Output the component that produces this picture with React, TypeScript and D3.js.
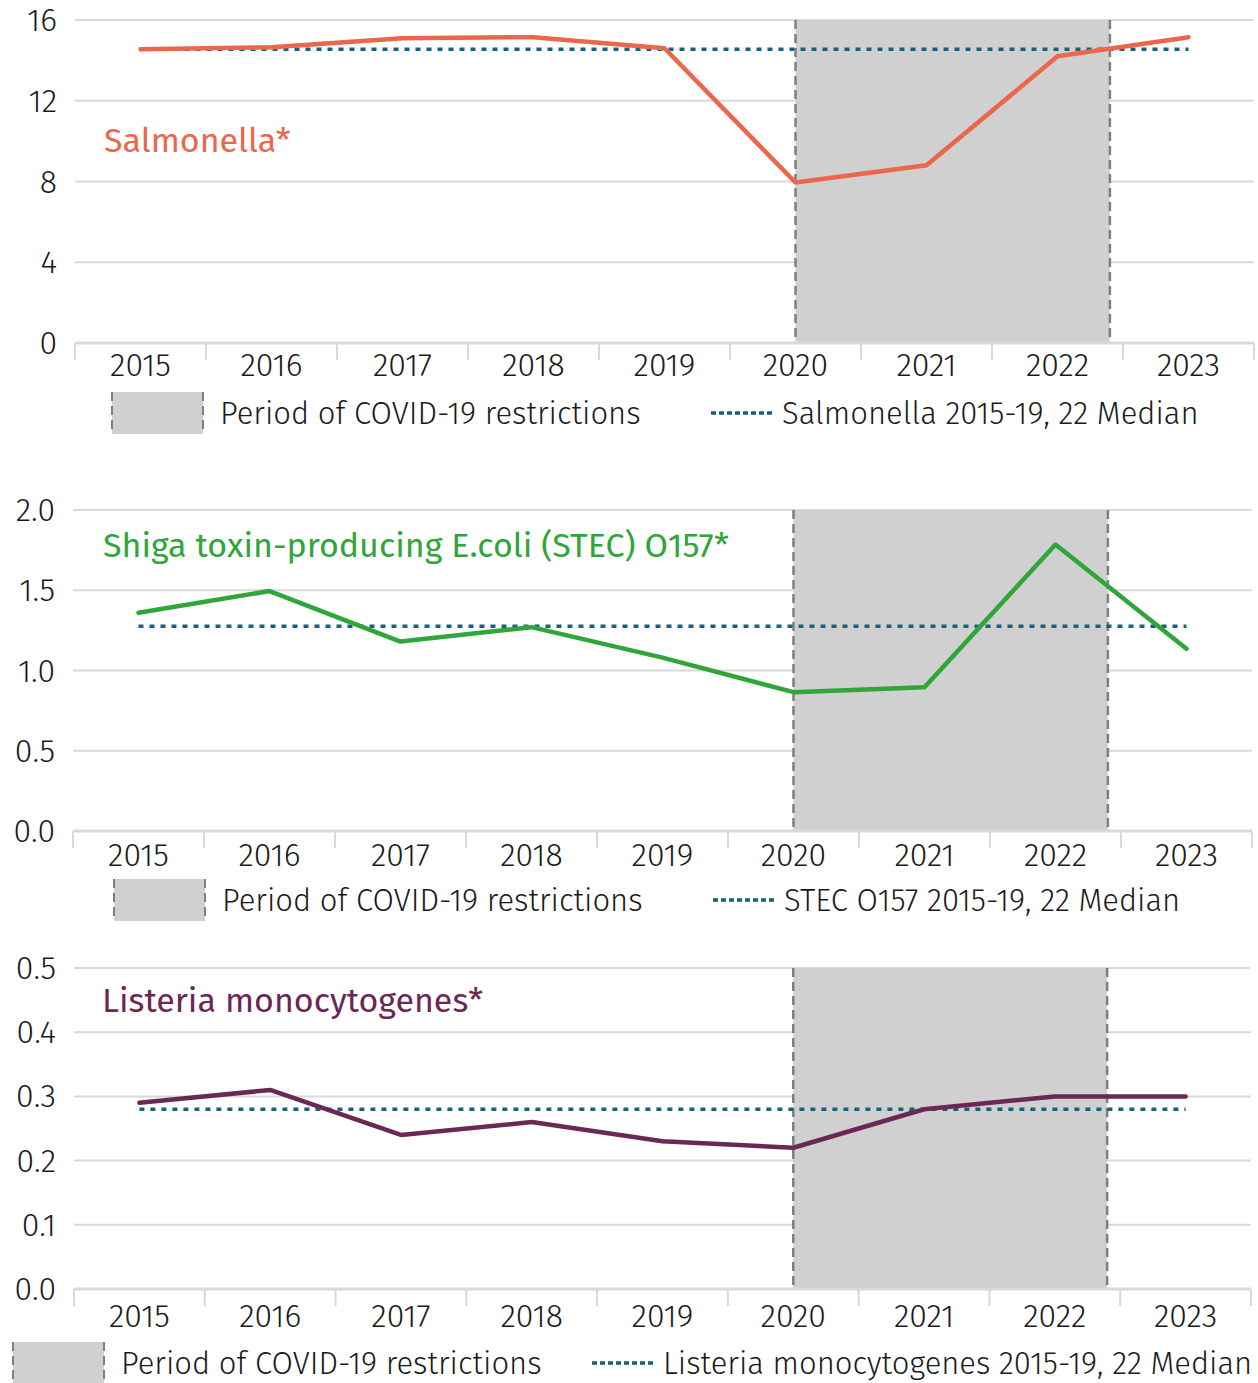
import React from "react";
import * as d3 from "d3";

const years = ["2015", "2016", "2017", "2018", "2019", "2020", "2021", "2022", "2023"];

const salmonella = [14.55, 14.65, 15.1, 15.15, 14.6, 7.95, 8.8, 14.2, 15.15];
const salmonellaMedian = 14.55;
const salmonellaTicks = [0, 4, 8, 12, 16];

const stec = [1.36, 1.495, 1.18, 1.27, 1.08, 0.865, 0.895, 1.785, 1.135];
const stecMedian = 1.275;
const stecTicks = [0, 0.5, 1.0, 1.5, 2.0];

const listeria = [0.29, 0.31, 0.24, 0.26, 0.23, 0.22, 0.28, 0.3, 0.3];
const listeriaMedian = 0.28;
const listeriaTicks = [0, 0.1, 0.2, 0.3, 0.4, 0.5];

// covid period, in year units (ends part way into 2022)
const covidPeriod = [2020, 2022.4];

const FONT = "'Fira Sans', 'Noto Sans', sans-serif";
const MEDIAN_COLOR = "#18617d";
const SHADE = "#d0d0d0";

type PanelProps = {
  top: number;
  bottom: number;
  left: number;
  right: number;
  values: number[];
  median: number;
  ticks: number[];
  fmt: (d: number) => string;
  color: string;
  title: string;
  titleX: number;
  titleY: number;
  labelDy: number;
  legendY: number;
  swatchX: number;
  medianX: number;
  medianLabel: string;
};

const Panel = (p: PanelProps) => {
  const x = d3.scaleBand().domain(years).range([p.left, p.right]);
  const step = x.step();
  const yearX = d3
    .scaleLinear()
    .domain([2015, 2016])
    .range([x("2015")! + step / 2, x("2015")! + step * 1.5]);
  const y = d3
    .scaleLinear()
    .domain([0, d3.max(p.ticks)!])
    .range([p.bottom, p.top]);

  const line = d3
    .line<number>()
    .x((_, i) => x(years[i])! + step / 2)
    .y((d) => y(d));

  const sx0 = yearX(covidPeriod[0]);
  const sx1 = yearX(covidPeriod[1]);
  const cx0 = x(years[0])! + step / 2;
  const cx1 = x(years[years.length - 1])! + step / 2;

  return (
    <g>
      {/* gridlines */}
      {p.ticks.slice(1).map((t) => (
        <line key={t} x1={p.left} x2={p.right} y1={y(t)} y2={y(t)} stroke="#d9d9d9" strokeWidth={2} />
      ))}
      {/* covid shade */}
      <rect x={sx0} y={p.top} width={sx1 - sx0} height={p.bottom - p.top} fill={SHADE} />
      {[sx0, sx1].map((sx, i) => (
        <line key={i} x1={sx} x2={sx} y1={p.top} y2={p.bottom} stroke="#7f7f7f" strokeWidth={2.5} strokeDasharray="9 5" />
      ))}
      {/* axis */}
      <line x1={p.left} x2={p.right} y1={p.bottom} y2={p.bottom} stroke="#d9d9d9" strokeWidth={3} />
      {years.map((yr) => (
        <line key={yr} x1={x(yr)!} x2={x(yr)!} y1={p.bottom} y2={p.bottom + 17} stroke="#d9d9d9" strokeWidth={2} />
      ))}
      <line x1={p.right} x2={p.right} y1={p.bottom} y2={p.bottom + 17} stroke="#d9d9d9" strokeWidth={2} />
      <g fontWeight={300} fontSize={32} fill="#1a1a1a">
        {years.map((yr) => (
          <text key={yr} x={x(yr)! + step / 2} y={p.bottom + p.labelDy} textAnchor="middle">
            {yr}
          </text>
        ))}
        {p.ticks.map((t) => (
          <text key={t} x={p.left - 18} y={y(t) + 11} textAnchor="end">
            {p.fmt(t)}
          </text>
        ))}
      </g>
      {/* median */}
      <line x1={cx0} x2={cx1} y1={y(p.median)} y2={y(p.median)} stroke={MEDIAN_COLOR} strokeWidth={3.5} strokeDasharray="5 6" />
      {/* series */}
      <path d={line(p.values)!} fill="none" stroke={p.color} strokeWidth={4.5} strokeLinecap="round" strokeLinejoin="round" />
      <text x={p.titleX} y={p.titleY} fontSize={34} fill={p.color}>
        {p.title}
      </text>
      {/* legend */}
      <rect x={p.swatchX} y={p.legendY - 21} width={91} height={42} fill={SHADE} />
      {[p.swatchX, p.swatchX + 91].map((lx, i) => (
        <line key={i} x1={lx} x2={lx} y1={p.legendY - 21} y2={p.legendY + 21} stroke="#7f7f7f" strokeWidth={2} strokeDasharray="9 5" />
      ))}
      <g fontWeight={300} fontSize={31} fill="#1a1a1a">
        <text x={p.swatchX + 108} y={p.legendY + 11}>
          Period of COVID-19 restrictions
        </text>
        <text x={p.medianX + 71} y={p.legendY + 11}>
          {p.medianLabel}
        </text>
      </g>
      <line x1={p.medianX} x2={p.medianX + 62} y1={p.legendY} y2={p.legendY} stroke={MEDIAN_COLOR} strokeWidth={3.5} strokeDasharray="5 3" />
    </g>
  );
};

const App = () => {
  return (
    <svg
      width={1258}
      height={1383}
      style={{ position: "absolute", left: 0, top: 0, background: "#fff" }}
      fontFamily={FONT}
    >
      <Panel
        top={20}
        bottom={343}
        left={75}
        right={1254}
        values={salmonella}
        median={salmonellaMedian}
        ticks={salmonellaTicks}
        fmt={d3.format("d")}
        color="#ec664c"
        title="Salmonella*"
        titleX={104}
        titleY={152}
        labelDy={33}
        legendY={413}
        swatchX={112}
        medianX={711}
        medianLabel="Salmonella 2015-19, 22 Median"
      />
      <Panel
        top={510}
        bottom={831}
        left={73}
        right={1252}
        values={stec}
        median={stecMedian}
        ticks={stecTicks}
        fmt={d3.format(".1f")}
        color="#2fa53a"
        title="Shiga toxin-producing E.coli (STEC) O157*"
        titleX={103}
        titleY={557}
        labelDy={35}
        legendY={900}
        swatchX={114}
        medianX={713}
        medianLabel="STEC O157 2015-19, 22 Median"
      />
      <Panel
        top={968}
        bottom={1289}
        left={74}
        right={1251}
        values={listeria}
        median={listeriaMedian}
        ticks={listeriaTicks}
        fmt={d3.format(".1f")}
        color="#6b2755"
        title="Listeria monocytogenes*"
        titleX={102}
        titleY={1012}
        labelDy={38}
        legendY={1363}
        swatchX={13}
        medianX={592}
        medianLabel="Listeria monocytogenes 2015-19, 22 Median"
      />
    </svg>
  );
};

export default App;
